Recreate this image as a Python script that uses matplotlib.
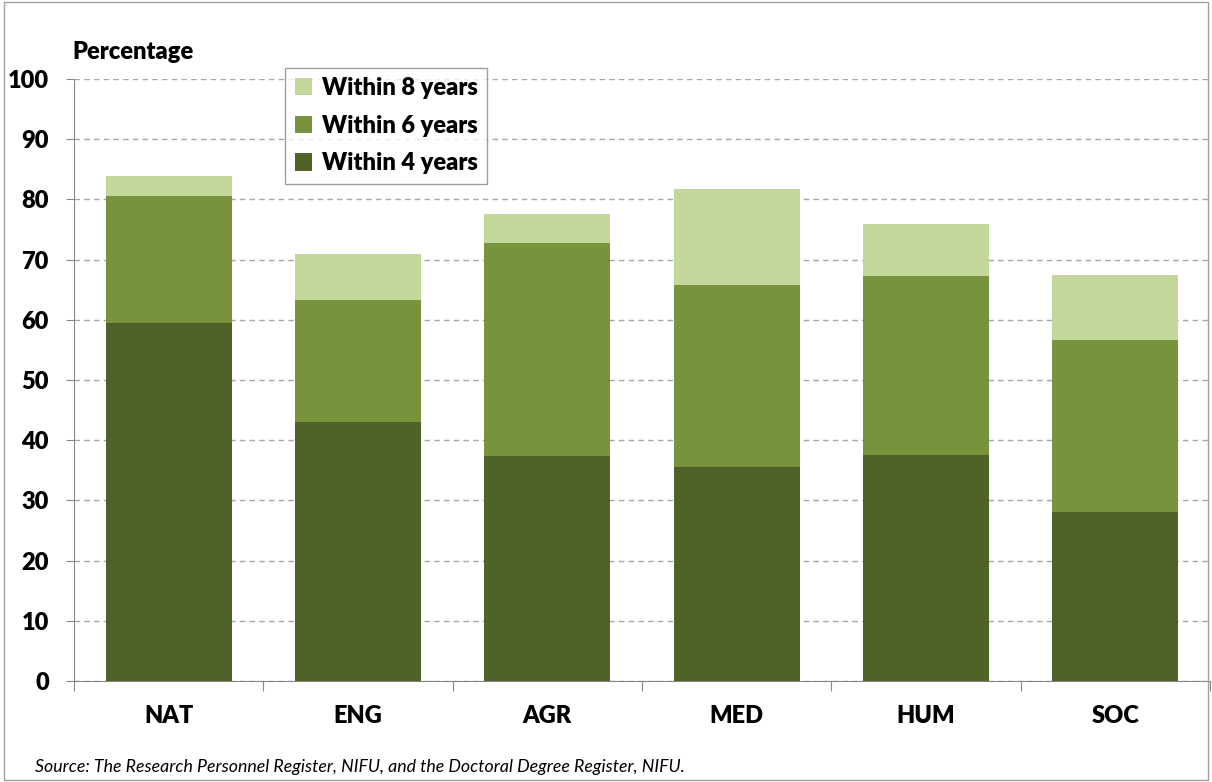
import matplotlib.pyplot as plt
import numpy as np
from matplotlib.patches import Rectangle

# Share of doctoral candidates completing within 4, 6 and 8 years (cumulative %)
fields = ['NAT', 'ENG', 'AGR', 'MED', 'HUM', 'SOC']
within_4 = [59.5, 43.0, 37.4, 35.5, 37.5, 28.1]
within_6 = [80.6, 63.3, 72.8, 65.8, 67.3, 56.6]
within_8 = [83.9, 70.9, 77.6, 81.7, 75.9, 67.4]

dark = '#4F6228'
mid = '#77933C'
light = '#C4D79B'

plt.rcParams['font.family'] = ['Lato', 'DejaVu Sans']

fig = plt.figure(figsize=(12.12, 7.82), dpi=100)
ax = fig.add_axes([74 / 1212, 101 / 782, 1136 / 1212, 602 / 782])

x = np.arange(len(fields))
w4 = np.array(within_4)
w6 = np.array(within_6)
w8 = np.array(within_8)
width = 0.665

ax.bar(x, w4, width, color=dark, label='Within 4 years', zorder=3)
ax.bar(x, w6 - w4, width, bottom=w4, color=mid, label='Within 6 years', zorder=3)
ax.bar(x, w8 - w6, width, bottom=w6, color=light, label='Within 8 years', zorder=3)

ax.set_xlim(-0.5, len(fields) - 0.5)
ax.set_ylim(0, 100)
ax.set_yticks(range(0, 101, 10))
ax.set_yticklabels([str(v) for v in range(0, 101, 10)], fontsize=17, fontweight='heavy')
ax.yaxis.grid(True, color='#A6A6A6', linestyle=(0, (4, 3)), linewidth=1, zorder=0)

# category labels centred under bars, tick marks between categories
ax.set_xticks(np.arange(-0.5, len(fields), 1))
ax.set_xticklabels([])
ax.set_xticks(x, minor=True)
ax.set_xticklabels(fields, minor=True, fontsize=17, fontweight='heavy')
ax.tick_params(axis='x', which='minor', length=0, pad=17)
ax.tick_params(axis='x', which='major', length=7, color='#868686', direction='out')
ax.tick_params(axis='y', length=6, color='#868686', direction='out', pad=12)

for side in ['top', 'right']:
    ax.spines[side].set_visible(False)
for side in ['left', 'bottom']:
    ax.spines[side].set_color('#868686')

fig.text(72 / 1212, 1 - 52 / 782, 'Percentage', fontsize=17, fontweight='heavy', va='center')

handles, labels = ax.get_legend_handles_labels()
leg = ax.legend(handles[::-1], labels[::-1], loc='upper left',
                bbox_to_anchor=(0.186, 1.019),
                prop={'weight': 'heavy', 'size': 17}, frameon=True, fancybox=False,
                edgecolor='#868686', handlelength=0.75, handleheight=0.75,
                handletextpad=0.4, labelspacing=0.66, borderpad=0.4, borderaxespad=0)
leg.get_frame().set_linewidth(1)

fig.text(35 / 1212, 1 - 767 / 782,
         'Source: The Research Personnel Register, NIFU, and the Doctoral Degree Register, NIFU.',
         fontsize=12.8, style='italic', va='center')

# thin frame round the whole figure
fig.patches.append(Rectangle((0.003, 0.003), 0.994, 0.994, transform=fig.transFigure,
                             fill=False, edgecolor='#A0A0A0', linewidth=1))

fig.savefig('out.png', dpi=100)
